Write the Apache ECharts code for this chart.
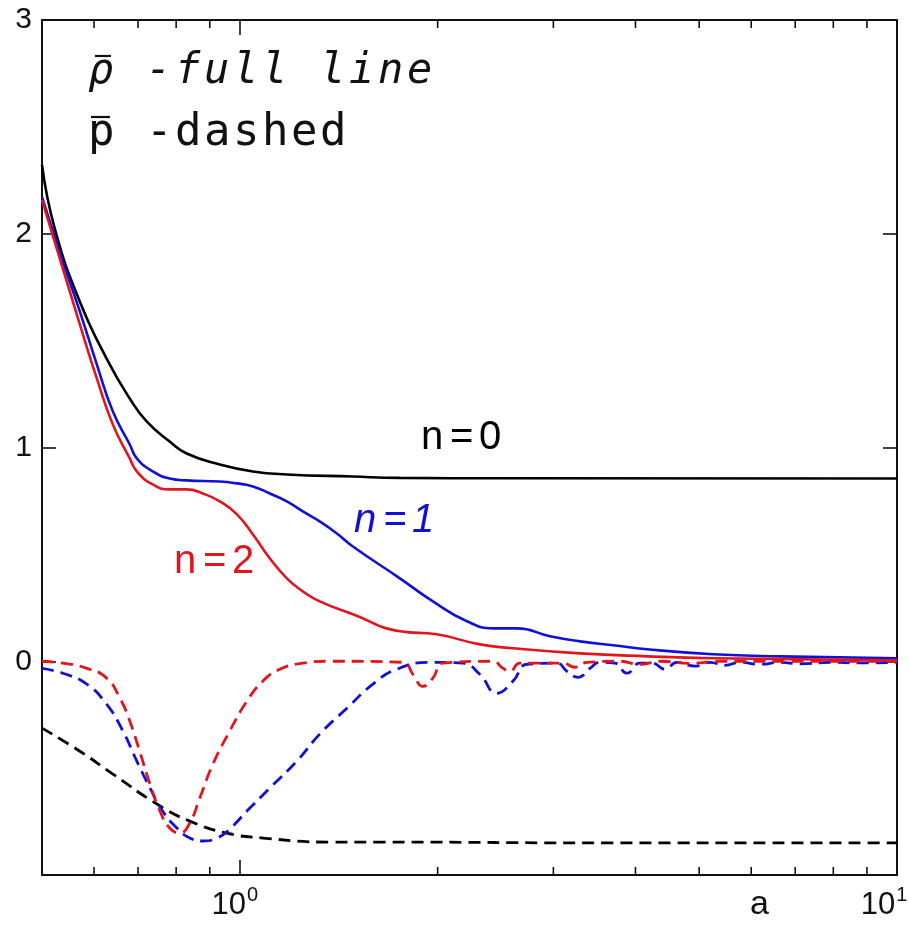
<!DOCTYPE html>
<html>
<head>
<meta charset="utf-8">
<script src="https://cdn.jsdelivr.net/npm/echarts@6/dist/echarts.min.js"></script>
<style>html,body{margin:0;padding:0;background:#fff;}#c{width:909px;height:926px;}</style>
</head>
<body>
<div id="c"></div>
<script>
// ---- data (a, value) ----
const xN0Full = [0.5, 0.523, 0.571, 0.627, 0.680, 0.722, 0.782, 0.830, 0.932, 1.047, 1.179, 1.486, 1.752, 2.5, 10];
const yN0Full = [2.322, 2.023, 1.682, 1.416, 1.229, 1.121, 1.028, 0.972, 0.921, 0.888, 0.874, 0.864, 0.858, 0.856, 0.855];

const xN1Full = [0.5, 0.538, 0.571, 0.606, 0.641, 0.680, 0.697, 0.737, 0.782, 0.830, 0.932, 0.990, 1.047, 1.111, 1.179, 1.247, 1.323, 1.405, 1.486, 1.752, 1.967, 2.216, 2.427, 2.640, 2.964, 3.293, 3.697, 4.165, 5.248, 6.636, 10];
const yN1Full = [2.173, 1.869, 1.636, 1.388, 1.168, 1.014, 0.949, 0.888, 0.855, 0.846, 0.841, 0.832, 0.818, 0.785, 0.748, 0.701, 0.654, 0.598, 0.537, 0.388, 0.280, 0.187, 0.154, 0.154, 0.117, 0.093, 0.075, 0.056, 0.033, 0.023, 0.014];

const xN2Full = [0.5, 0.538, 0.571, 0.606, 0.641, 0.680, 0.697, 0.737, 0.782, 0.830, 0.878, 0.932, 0.990, 1.047, 1.111, 1.179, 1.247, 1.323, 1.486, 1.752, 1.994, 2.318, 2.604, 3.293, 4.165, 5.248, 10];
const yN2Full = [2.159, 1.836, 1.575, 1.322, 1.107, 0.949, 0.888, 0.827, 0.804, 0.804, 0.785, 0.748, 0.687, 0.593, 0.481, 0.388, 0.327, 0.280, 0.220, 0.140, 0.126, 0.079, 0.061, 0.037, 0.023, 0.014, 0.004];

const xN0Dash = [0.5, 0.571, 0.641, 0.748, 0.839, 0.955, 1.084, 1.371, 1.633, 3.658, 10];
const yN0Dash = [-0.313, -0.421, -0.528, -0.668, -0.748, -0.804, -0.827, -0.846, -0.846, -0.850, -0.850];

const xN1Dash = [0.5, 0.538, 0.585, 0.627, 0.664, 0.697, 0.730, 0.763, 0.802, 0.839, 0.878, 0.923, 0.965, 1.025, 1.111, 1.221, 1.323, 1.455, 1.594, 1.734, 1.946, 2.185, 2.318, 2.461, 2.604, 2.735, 3.038, 3.146, 3.270, 3.41, 3.532, 3.722, 3.882, 4.063, 4.238, 4.437, 4.625, 4.927, 5.193, 5.473, 5.768, 6.187, 6.636, 7.118, 7.907, 8.783, 10];
const yN1Dash = [-0.033, -0.056, -0.107, -0.201, -0.327, -0.467, -0.593, -0.701, -0.780, -0.827, -0.841, -0.827, -0.785, -0.701, -0.593, -0.467, -0.341, -0.220, -0.107, -0.037, -0.005, -0.009, -0.061, -0.150, -0.093, -0.014, -0.009, -0.047, -0.075, -0.033, -0.005, -0.009, -0.056, -0.009, -0.009, -0.037, -0.005, -0.023, -0.005, -0.019, -0.005, -0.014, -0.005, -0.012, -0.005, -0.008, -0.005];

const xN2Dash = [0.5, 0.538, 0.585, 0.627, 0.657, 0.680, 0.704, 0.730, 0.756, 0.782, 0.810, 0.839, 0.869, 0.910, 0.965, 1.025, 1.084, 1.151, 1.247, 1.371, 1.771, 1.834, 1.899, 1.967, 2.037, 2.427, 2.514, 2.576, 2.668, 3.102, 3.236, 3.375, 3.787, 4.06, 4.36, 4.84, 5.38, 10];
const yN2Dash = [0, -0.009, -0.033, -0.079, -0.173, -0.280, -0.421, -0.575, -0.701, -0.780, -0.804, -0.757, -0.640, -0.481, -0.327, -0.187, -0.093, -0.037, -0.009, 0, -0.005, -0.061, -0.117, -0.079, -0.009, 0, -0.033, -0.047, -0.009, -0.009, -0.028, -0.005, 0, -0.015, 0, -0.010, 0, 0];

const minorTicks = [0.6, 0.7, 0.8, 0.9, 2, 3, 4, 5, 6, 7, 8, 9];
const yTickLabels = ['0', '1', '2', '3'];
const legendLine1 = ['ρ', ' ', '-', 'f', 'u', 'l', 'l', ' ', 'l', 'i', 'n', 'e'];
const legendLine2 = ['p', ' ', '-', 'd', 'a', 's', 'h', 'e', 'd'];
const curveLabels = [
  {chars: ['n', '=', '0'], color: '#000000'},
  {chars: ['n', '=', '1'], color: '#1010d8'},
  {chars: ['n', '=', '2'], color: '#e4141c'}
];

const zip = (xs, ys) => xs.map((x, i) => [x, ys[i]]);
const BLUE = '#1010d8', RED = '#e4141c', BLACK = '#000000';

function lineSeries(name, xs, ys, color, dashed) {
  return {
    name, type: 'line', data: zip(xs, ys), showSymbol: false, symbol: 'none',
    smooth: 0.5, clip: true, z: dashed ? 3 : 4,
    lineStyle: {color, width: dashed ? 2.8 : 2.6, type: dashed ? [12, 7] : 'solid'}
  };
}

function charGroup(chars, x0, step, yc, font, fill) {
  return chars.map((ch, i) => ({
    type: 'text', x: x0 + i * step, y: yc,
    style: {text: ch, fill: fill || '#111', font: font, textVerticalAlign: 'middle', textAlign: 'left'}
  }));
}

const xLabelRich = {
  b: {fontSize: 31, fontFamily: 'Liberation Sans', color: '#111', lineHeight: 36, verticalAlign: 'bottom'},
  s0: {fontSize: 20, fontFamily: 'Liberation Sans', color: '#111', lineHeight: 36, verticalAlign: 'top', padding: [0, 10, 0, 1]},
  s1: {fontSize: 20, fontFamily: 'Liberation Sans', color: '#111', lineHeight: 36, verticalAlign: 'top', padding: [0, 26, 0, 1]}
};

const axisLineStyle = {show: true, onZero: false, lineStyle: {color: '#111', width: 2}};

const chart = echarts.init(document.getElementById('c'));
chart.setOption({
  animation: false,
  backgroundColor: '#ffffff',
  grid: {left: 42, right: 12, top: 20, bottom: 51, show: false, containLabel: false, outerBoundsMode: 'none'},
  xAxis: [
    {
      type: 'log', logBase: 10, min: 0.5, max: 10, position: 'bottom',
      axisLine: axisLineStyle,
      axisTick: {show: true, inside: true, length: 15, lineStyle: {color: '#111', width: 1.6}},
      splitLine: {show: false},
      axisLabel: {
        margin: 10, rich: xLabelRich, alignMaxLabel: 'center', showMinLabel: false,
        formatter: v => (Math.abs(v - 1) < 1e-9 ? '{b|10}{s0|0}' : (Math.abs(v - 10) < 1e-9 ? '{b|10}{s1|1}' : ''))
      }
    },
    {
      type: 'log', logBase: 10, min: 0.5, max: 10, position: 'top',
      axisLine: axisLineStyle,
      axisTick: {show: true, inside: true, length: 15, lineStyle: {color: '#111', width: 1.6}},
      splitLine: {show: false}, axisLabel: {show: false}
    }
  ],
  yAxis: [
    {
      type: 'value', min: -1, max: 3, interval: 1, position: 'left',
      axisLine: axisLineStyle,
      axisTick: {show: true, inside: true, length: 14, lineStyle: {color: '#111', width: 1.6}},
      splitLine: {show: false},
      axisLabel: {
        margin: 10, fontSize: 30, fontFamily: 'Liberation Sans', color: '#111',
        formatter: v => (yTickLabels.indexOf(String(v)) >= 0 ? String(v) : '')
      }
    },
    {
      type: 'value', min: -1, max: 3, interval: 1, position: 'right',
      axisLine: axisLineStyle,
      axisTick: {show: true, inside: true, length: 14, lineStyle: {color: '#111', width: 1.6}},
      splitLine: {show: false}, axisLabel: {show: false}
    }
  ],
  series: [
    lineSeries('n0 dashed', xN0Dash, yN0Dash, BLACK, true),
    lineSeries('n1 dashed', xN1Dash, yN1Dash, BLUE, true),
    lineSeries('n2 dashed', xN2Dash, yN2Dash, RED, true),
    lineSeries('n0 full', xN0Full, yN0Full, BLACK, false),
    lineSeries('n1 full', xN1Full, yN1Full, BLUE, false),
    lineSeries('n2 full', xN2Full, yN2Full, RED, false),
    {
      type: 'custom', name: 'minor ticks', data: minorTicks.map(v => [v]), silent: true, clip: false, z: 5,
      renderItem: function (params, api) {
        const v = api.value(0);
        const b = api.coord([v, -1]);
        const t = api.coord([v, 3]);
        const st = {stroke: '#111', lineWidth: 1.6};
        return {type: 'group', children: [
          {type: 'line', shape: {x1: b[0], y1: b[1], x2: b[0], y2: b[1] - 8}, style: st},
          {type: 'line', shape: {x1: t[0], y1: t[1], x2: t[0], y2: t[1] + 8}, style: st}
        ]};
      }
    }
  ],
  graphic: [
    ...charGroup(legendLine1, 88, 29, 72, 'italic 42px "DejaVu Sans Mono"'),
    {type: 'line', shape: {x1: 95, y1: 56, x2: 111, y2: 56}, style: {stroke: '#111', lineWidth: 2.2}},
    ...charGroup(legendLine2, 88, 29, 134, '44px "DejaVu Sans Mono"'),
    {type: 'line', shape: {x1: 91, y1: 117, x2: 110, y2: 117}, style: {stroke: '#111', lineWidth: 2.2}},
    ...charGroup(curveLabels[0].chars, 421, 29, 438, '40px "Liberation Sans"', curveLabels[0].color),
    ...charGroup(curveLabels[1].chars, 354, 29, 521, 'italic 40px "Liberation Sans"', curveLabels[1].color),
    ...charGroup(curveLabels[2].chars, 174, 29, 562, '40px "Liberation Sans"', curveLabels[2].color),
    {type: 'text', x: 750, y: 905, style: {text: 'a', fill: '#111', font: '34px "Liberation Sans"', textVerticalAlign: 'middle'}}
  ]
});
</script>
</body>
</html>
